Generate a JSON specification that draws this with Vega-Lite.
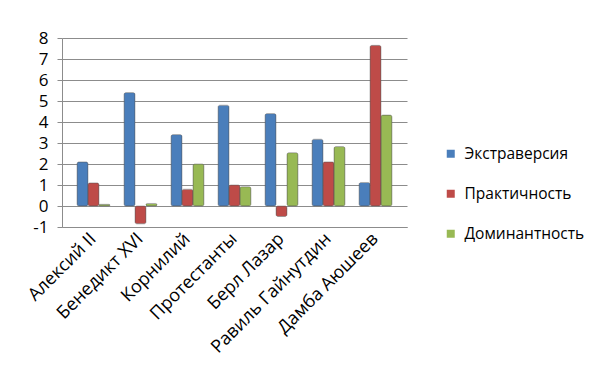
{
  "$schema": "https://vega.github.io/schema/vega-lite/v6.json",
  "autosize": "none",
  "width": 345,
  "height": 189,
  "padding": {"left": 62, "top": 38, "right": 201, "bottom": 158},
  "background": "white",
  "config": {
    "view": {"stroke": null},
    "font": "Open Sans"
  },
  "data": {
    "values": [
      {"name": "Алексий II", "trait": "Экстраверсия", "value": 2.1},
      {"name": "Алексий II", "trait": "Практичность", "value": 1.1},
      {"name": "Алексий II", "trait": "Доминантность", "value": 0.08},
      {"name": "Бенедикт XVI", "trait": "Экстраверсия", "value": 5.4},
      {"name": "Бенедикт XVI", "trait": "Практичность", "value": -0.85},
      {"name": "Бенедикт XVI", "trait": "Доминантность", "value": 0.12},
      {"name": "Корнилий", "trait": "Экстраверсия", "value": 3.4},
      {"name": "Корнилий", "trait": "Практичность", "value": 0.8},
      {"name": "Корнилий", "trait": "Доминантность", "value": 2.0},
      {"name": "Протестанты", "trait": "Экстраверсия", "value": 4.8},
      {"name": "Протестанты", "trait": "Практичность", "value": 1.0},
      {"name": "Протестанты", "trait": "Доминантность", "value": 0.92},
      {"name": "Берл Лазар", "trait": "Экстраверсия", "value": 4.4},
      {"name": "Берл Лазар", "trait": "Практичность", "value": -0.5},
      {"name": "Берл Лазар", "trait": "Доминантность", "value": 2.54},
      {"name": "Равиль Гайнутдин", "trait": "Экстраверсия", "value": 3.18},
      {"name": "Равиль Гайнутдин", "trait": "Практичность", "value": 2.1},
      {"name": "Равиль Гайнутдин", "trait": "Доминантность", "value": 2.83},
      {"name": "Дамба Аюшеев", "trait": "Экстраверсия", "value": 1.12},
      {"name": "Дамба Аюшеев", "trait": "Практичность", "value": 7.65},
      {"name": "Дамба Аюшеев", "trait": "Доминантность", "value": 4.33}
    ]
  },
  "mark": {"type": "bar", "cornerRadius": 2},
  "encoding": {
    "x": {
      "field": "name",
      "type": "nominal",
      "sort": null,
      "scale": {"paddingInner": 0.3, "paddingOuter": 0.32},
      "axis": {
        "title": null,
        "labelAngle": -45,
        "labelFontSize": 18,
        "labelColor": "black",
        "labelPadding": 9,
        "domainColor": "#8c8c8c",
        "ticks": false,
        "labelBaseline": "middle",
        "labelAlign": "right"
      }
    },
    "xOffset": {
      "field": "trait",
      "type": "nominal",
      "sort": ["Экстраверсия", "Практичность", "Доминантность"]
    },
    "y": {
      "field": "value",
      "type": "quantitative",
      "scale": {"domain": [-1, 8], "nice": false, "zero": false},
      "axis": {
        "title": null,
        "values": [-1, 0, 1, 2, 3, 4, 5, 6, 7, 8],
        "labelExpr": "'' + datum.value",
        "labelFontSize": 17,
        "labelColor": "black",
        "labelPadding": 9,
        "tickColor": "#8c8c8c",
        "tickSize": 5,
        "domainColor": "#8c8c8c",
        "gridColor": "#8c8c8c",
        "gridWidth": 1.2
      }
    },
    "color": {
      "field": "trait",
      "type": "nominal",
      "sort": ["Экстраверсия", "Практичность", "Доминантность"],
      "scale": {
        "domain": ["Экстраверсия", "Практичность", "Доминантность"],
        "range": ["#4a7ebb", "#be4b48", "#98b954"]
      },
      "legend": {
        "title": null,
        "orient": "none",
        "legendX": 381,
        "legendY": 108,
        "symbolType": "square",
        "symbolSize": 64,
        "symbolStrokeWidth": 0,
        "labelFontSize": 15.5,
        "labelColor": "black",
        "rowPadding": 23,
        "labelOffset": 6,
        "padding": 0
      }
    },
    "stroke": {"value": "#555555"},
    "strokeWidth": {"value": 0.4}
  }
}
